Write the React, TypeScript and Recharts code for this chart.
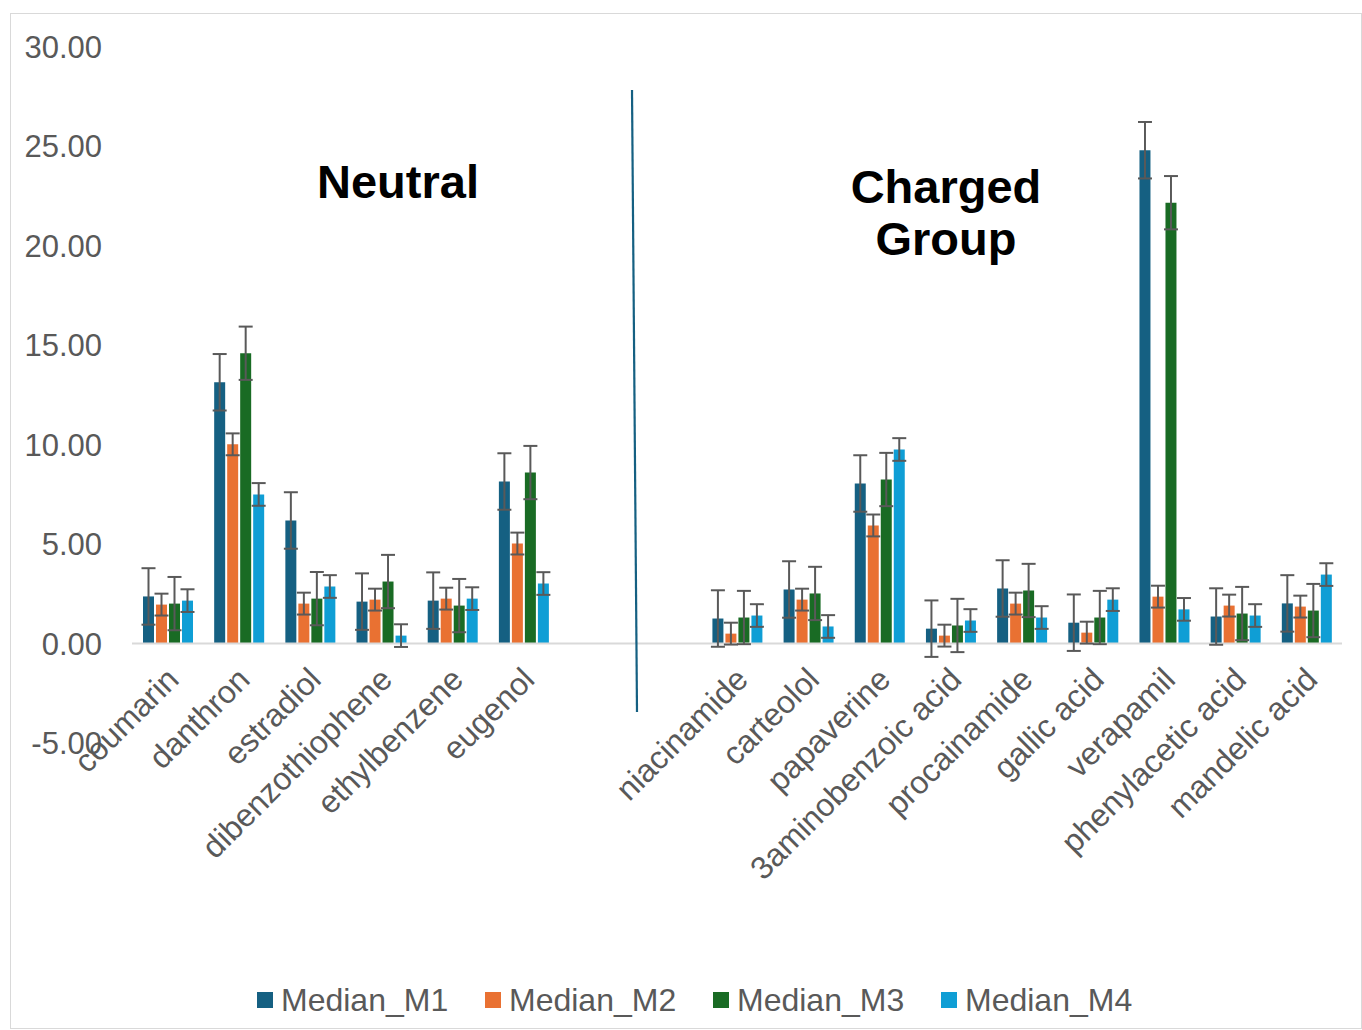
import React from "react";
import {
  BarChart,
  Bar,
  XAxis,
  YAxis,
  ErrorBar,
  ReferenceLine,
  Legend,
} from "recharts";

// ---------- data ----------
const neutralNames = ["coumarin", "danthron", "estradiol", "dibenzothiophene", "ethylbenzene", "eugenol"];
const chargedNames = [
  "niacinamide",
  "carteolol",
  "papaverine",
  "3aminobenzoic acid",
  "procainamide",
  "gallic acid",
  "verapamil",
  "phenylacetic acid",
  "mandelic acid",
];
const gapSlots = ["", ""]; // empty category slots between the two groups

const m1Neutral = [2.37, 13.14, 6.19, 2.11, 2.16, 8.15];
const m2Neutral = [1.96, 10.02, 2.01, 2.21, 2.26, 5.03];
const m3Neutral = [2.01, 14.6, 2.26, 3.12, 1.91, 8.6];
const m4Neutral = [2.16, 7.5, 2.87, 0.4, 2.26, 3.02];

const m1Charged = [1.26, 2.72, 8.05, 0.75, 2.77, 1.05, 24.81, 1.36, 2.02];
const m2Charged = [0.5, 2.21, 5.94, 0.4, 2.01, 0.55, 2.36, 1.91, 1.86];
const m3Charged = [1.31, 2.52, 8.25, 0.91, 2.67, 1.31, 22.17, 1.51, 1.66];
const m4Charged = [1.41, 0.86, 9.76, 1.16, 1.31, 2.21, 1.72, 1.41, 3.47];

// error bar half-lengths (same for every category of a series)
const errM1 = 1.42;
const errM2 = 0.55;
const errM3 = 1.34;
const errM4 = 0.57;

const yTicks = [-5, 0, 5, 10, 15, 20, 25, 30];
const Y_MIN = -5;
const Y_MAX = 30;

const seriesNames = ["Median_M1", "Median_M2", "Median_M3", "Median_M4"];
const seriesColors = ["#156082", "#E97132", "#196B24", "#0F9ED5"];

// ---------- build table ----------
type Row = {
  name: string;
  m1: number | null;
  m2: number | null;
  m3: number | null;
  m4: number | null;
  e1: number | null;
  e2: number | null;
  e3: number | null;
  e4: number | null;
};

const rows: Row[] = [];
neutralNames.forEach((n, i) =>
  rows.push({
    name: n,
    m1: m1Neutral[i],
    m2: m2Neutral[i],
    m3: m3Neutral[i],
    m4: m4Neutral[i],
    e1: errM1,
    e2: errM2,
    e3: errM3,
    e4: errM4,
  })
);
gapSlots.forEach((n) =>
  rows.push({ name: n, m1: null, m2: null, m3: null, m4: null, e1: null, e2: null, e3: null, e4: null })
);
chargedNames.forEach((n, i) =>
  rows.push({
    name: n,
    m1: m1Charged[i],
    m2: m2Charged[i],
    m3: m3Charged[i],
    m4: m4Charged[i],
    e1: errM1,
    e2: errM2,
    e3: errM3,
    e4: errM4,
  })
);

// ---------- layout ----------
const W = 1362;
const H = 1030;
const MARGIN = { top: 47, right: 20, bottom: 10, left: 0 };
const Y_AXIS_W = 132;
const LEGEND_H = 40;
const X_AXIS_H = 237;
const PLOT_H = H - MARGIN.top - MARGIN.bottom - LEGEND_H - X_AXIS_H;
const ZERO_SHIFT = (PLOT_H * (0 - Y_MIN)) / (Y_MAX - Y_MIN);
const LABEL_GAP = 30;
const LABEL_DX = 5;
const FONT = "'Liberation Sans', Arial, Helvetica, sans-serif";
const TEXT_GREY = "#595959";

const CategoryTick = (props: any) => {
  const { x, y, payload } = props;
  if (!payload || !payload.value) return <g />;
  const x0 = x + LABEL_DX;
  const y0 = y - ZERO_SHIFT + LABEL_GAP;
  return (
    <text
      x={x0}
      y={y0}
      dy="0.35em"
      transform={`rotate(-45, ${x0}, ${y0})`}
      textAnchor="end"
      fill={TEXT_GREY}
      fontSize={32}
      fontFamily={FONT}
    >
      {payload.value}
    </text>
  );
};

const LegendContent = () => (
  <div
    style={{
      height: LEGEND_H,
      display: "flex",
      alignItems: "center",
      paddingLeft: 257,
      boxSizing: "border-box",
      fontFamily: FONT,
    }}
  >
    {seriesNames.map((s, i) => (
      <div key={s} style={{ width: 228, display: "flex", alignItems: "center" }}>
        <span style={{ width: 16, height: 16, background: seriesColors[i], display: "inline-block", marginRight: 8 }} />
        <span style={{ fontSize: 32, color: TEXT_GREY, lineHeight: "40px" }}>{s}</span>
      </div>
    ))}
  </div>
);

export default function App() {
  return (
    <>
      <style>{"html,body{margin:0;padding:0;overflow:hidden;background:#fff}"}</style>
      <div
        style={{
          position: "absolute",
          left: 10,
          top: 13,
          width: 1352,
          height: 1016,
          border: "1px solid #d9d9d9",
          boxSizing: "border-box",
        }}
      />
      <div style={{ position: "absolute", left: 0, top: 0, width: W, height: H }}>
        <BarChart
          width={W}
          height={H}
          data={rows}
          margin={MARGIN}
          barSize={11}
          barGap={2}
          style={{ fontFamily: FONT }}
        >
          <XAxis
            dataKey="name"
            axisLine={false}
            tickLine={false}
            tickSize={0}
            tickMargin={0}
            interval={0}
            height={X_AXIS_H}
            tick={<CategoryTick />}
          />
          <YAxis
            domain={[Y_MIN, Y_MAX]}
            ticks={yTicks}
            width={Y_AXIS_W}
            axisLine={false}
            tickLine={false}
            tickSize={0}
            tickMargin={30}
            tickFormatter={(v: number) => v.toFixed(2)}
            tick={{ fill: TEXT_GREY, fontSize: 31, fontFamily: FONT }}
            allowDataOverflow
          />
          <ReferenceLine y={0} stroke="#d9d9d9" strokeWidth={2} />
          <Bar dataKey="m1" name={seriesNames[0]} fill={seriesColors[0]} isAnimationActive={false}>
            <ErrorBar dataKey="e1" width={7} stroke="#595959" strokeWidth={2} />
          </Bar>
          <Bar dataKey="m2" name={seriesNames[1]} fill={seriesColors[1]} isAnimationActive={false}>
            <ErrorBar dataKey="e2" width={7} stroke="#595959" strokeWidth={2} />
          </Bar>
          <Bar dataKey="m3" name={seriesNames[2]} fill={seriesColors[2]} isAnimationActive={false}>
            <ErrorBar dataKey="e3" width={7} stroke="#595959" strokeWidth={2} />
          </Bar>
          <Bar dataKey="m4" name={seriesNames[3]} fill={seriesColors[3]} isAnimationActive={false}>
            <ErrorBar dataKey="e4" width={7} stroke="#595959" strokeWidth={2} />
          </Bar>
          <Legend
            verticalAlign="bottom"
            height={LEGEND_H}
            content={<LegendContent />}
            wrapperStyle={{ left: 0, width: W }}
          />
        </BarChart>
      </div>
      <svg
        width={W}
        height={H}
        style={{ position: "absolute", left: 0, top: 0, pointerEvents: "none" }}
      >
        <line x1={632} y1={90} x2={637} y2={712} stroke="#156082" strokeWidth={2.2} />
        <text x={398} y={198} textAnchor="middle" fontFamily={FONT} fontWeight="bold" fontSize={47} fill="#000">
          Neutral
        </text>
        <text x={946} y={203} textAnchor="middle" fontFamily={FONT} fontWeight="bold" fontSize={47} fill="#000">
          Charged
        </text>
        <text x={946} y={255} textAnchor="middle" fontFamily={FONT} fontWeight="bold" fontSize={47} fill="#000">
          Group
        </text>
      </svg>
    </>
  );
}
